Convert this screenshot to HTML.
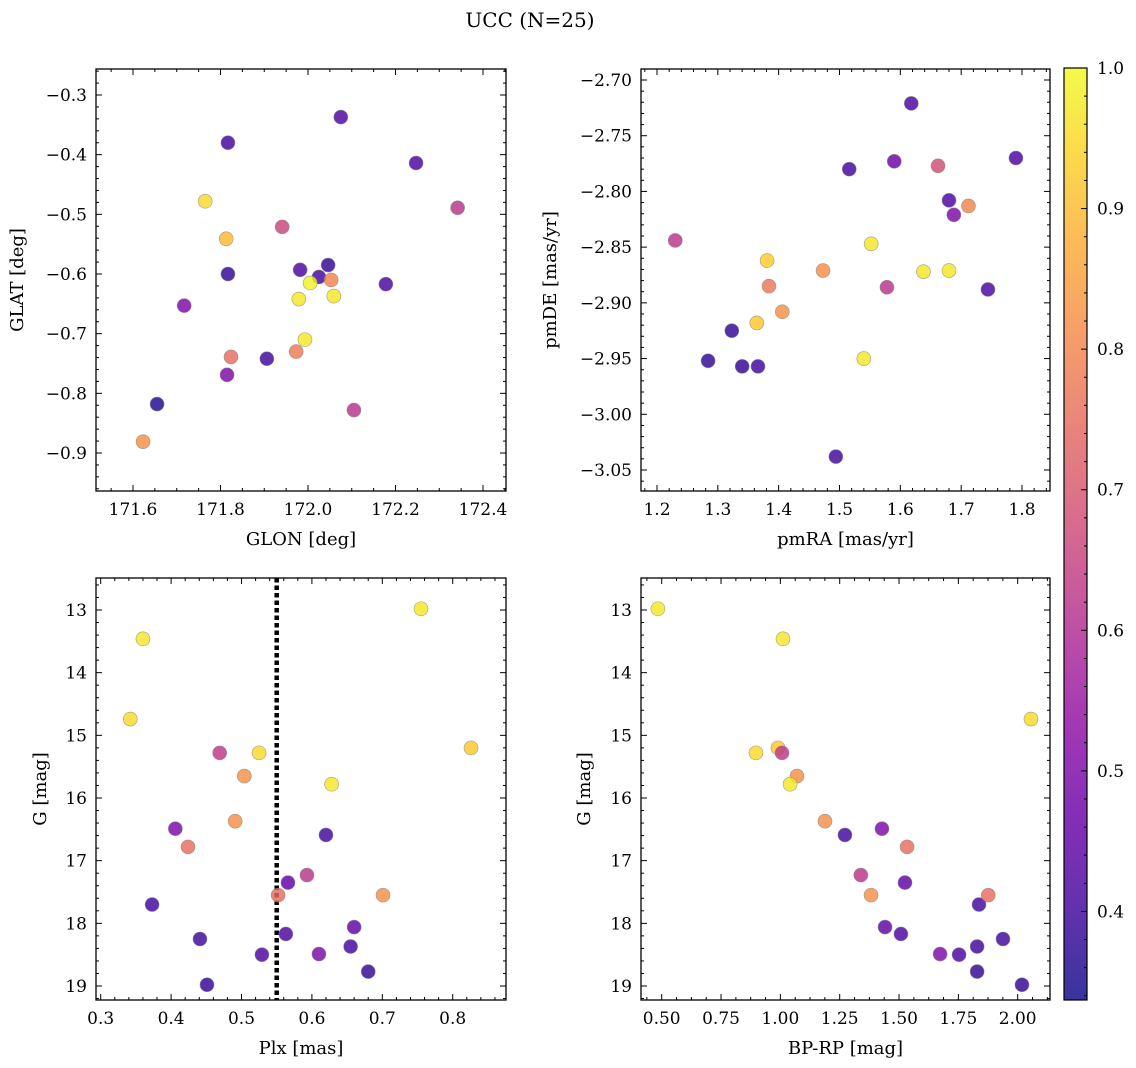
<!DOCTYPE html>
<html><head><meta charset="utf-8"><style>
html,body{margin:0;padding:0;background:#fff;}
svg{display:block;font-family:"DejaVu Serif","Liberation Serif",serif;}
</style></head><body>
<svg id="fig" width="1136" height="1068" xmlns="http://www.w3.org/2000/svg">
<defs>
<linearGradient id="plasma" x1="0" y1="1" x2="0" y2="0"></linearGradient>
</defs>
<text x="530" y="27" font-size="20" text-anchor="middle">UCC (N=25)</text>
</svg>
<script>
// ---- data ----
const prob = [0.42,0.40,0.42,0.62,0.95,0.66,0.90,0.38,0.42,0.40,0.38,0.80,0.99,0.97,0.97,0.42,0.50,0.97,0.75,0.40,0.78,0.50,0.62,0.36,0.82];
const glon = [172.075,171.817,172.247,172.342,171.765,171.941,171.813,171.817,171.982,172.025,172.046,172.053,172.005,171.979,172.059,172.178,171.717,171.993,171.824,171.906,171.973,171.815,172.105,171.655,171.623];
const glat = [-0.337,-0.380,-0.414,-0.489,-0.478,-0.521,-0.541,-0.600,-0.593,-0.605,-0.585,-0.610,-0.615,-0.642,-0.637,-0.617,-0.653,-0.710,-0.739,-0.742,-0.730,-0.769,-0.828,-0.818,-0.881];

const probPM = [0.42,0.40,0.47,0.68,0.42,0.42,0.80,0.50,0.62,0.97,0.93,0.82,0.97,0.97,0.77,0.62,0.42,0.92,0.82,0.38,0.38,0.38,0.40,0.97,0.40];
const pmra = [1.618,1.516,1.590,1.662,1.790,1.680,1.712,1.688,1.230,1.552,1.381,1.473,1.638,1.680,1.384,1.578,1.744,1.364,1.406,1.323,1.284,1.340,1.366,1.540,1.494];
const pmde = [-2.721,-2.780,-2.773,-2.777,-2.770,-2.808,-2.813,-2.821,-2.844,-2.847,-2.862,-2.871,-2.872,-2.871,-2.885,-2.886,-2.888,-2.918,-2.908,-2.925,-2.952,-2.957,-2.957,-2.950,-3.038];

const probCMD = [0.97,0.97,0.95,0.92,0.63,0.95,0.82,0.97,0.82,0.50,0.75,0.40,0.62,0.45,0.40,0.75,0.82,0.45,0.40,0.42,0.40,0.42,0.50,0.38,0.38];
const plx = [0.755,0.360,0.342,0.826,0.469,0.525,0.504,0.628,0.491,0.406,0.424,0.620,0.593,0.566,0.373,0.552,0.701,0.660,0.441,0.563,0.655,0.529,0.610,0.680,0.451];
const gmag = [12.98,13.46,14.74,15.20,15.28,15.28,15.65,15.78,16.37,16.49,16.78,16.59,17.23,17.35,17.70,17.55,17.55,18.06,18.25,18.17,18.37,18.50,18.49,18.77,18.98];
const bprp = [0.484,1.011,2.056,0.990,1.007,0.897,1.070,1.041,1.188,1.428,1.534,1.272,1.339,1.525,1.837,1.876,1.382,1.441,1.938,1.508,1.829,1.753,1.673,1.829,2.018];
const plxLine = 0.55;

const cbTicks = [0.4,0.5,0.6,0.7,0.8,0.9,1.0];
const cbMin = 0.337, cbMax = 1.0;

// ---- helpers ----
const NS = "http://www.w3.org/2000/svg";
const svg = document.getElementById('fig');
function mk(tag, attrs, parent){ const e=document.createElementNS(NS,tag); for(const k in attrs) e.setAttribute(k,attrs[k]); (parent||svg).appendChild(e); return e; }
const stops = ["#0d0887","#41049d","#6a00a8","#8f0da4","#b12a90","#cc4778","#e16462","#f2844b","#fca636","#fcce25","#f0f921"];
function hex(h){return [parseInt(h.substr(1,2),16),parseInt(h.substr(3,2),16),parseInt(h.substr(5,2),16)];}
function plasma(t){ t=Math.max(0,Math.min(1,t)); const f=t*10, i=Math.min(9,Math.floor(f)), r=f-i; const a=hex(stops[i]), b=hex(stops[i+1]); return 'rgb('+a.map((v,k)=>Math.round(v+(b[k]-v)*r)).join(',')+')'; }
function col(p){ return plasma((p-cbMin)/(cbMax-cbMin)); }
function fmt(v,d){ const s=Math.abs(v).toFixed(d); return (v<-1e-9?'\u2212':'')+s; }

function panel(cfg){
  const g = mk('g',{}); 
  
  
  const {L,R,T,B} = cfg.box;
  const sx = v => cfg.xa.p0 + (v-cfg.xa.v0)*(cfg.xa.p1-cfg.xa.p0)/(cfg.xa.v1-cfg.xa.v0);
  const sy = v => cfg.ya.p0 + (v-cfg.ya.v0)*(cfg.ya.p1-cfg.ya.p0)/(cfg.ya.v1-cfg.ya.v0);
  const inv = (a,p) => a.v0 + (p-a.p0)*(a.v1-a.v0)/(a.p1-a.p0);
  const xlo=Math.min(inv(cfg.xa,L),inv(cfg.xa,R)), xhi=Math.max(inv(cfg.xa,L),inv(cfg.xa,R));
  const ylo=Math.min(inv(cfg.ya,T),inv(cfg.ya,B)), yhi=Math.max(inv(cfg.ya,T),inv(cfg.ya,B));
  if(cfg.vline!==undefined){
    const l=mk('line',{x1:sx(cfg.vline),x2:sx(cfg.vline),y1:T,y2:B,stroke:'#000','stroke-width':4.5,'stroke-dasharray':'4.5 3'},g);
    
    
  }
  cfg.xs.forEach((xv,i)=>{
    const c=mk('circle',{cx:sx(xv),cy:sy(cfg.ys[i]),r:7,fill:col(cfg.ps[i]),'fill-opacity':0.82,stroke:'#888','stroke-width':0.6,'stroke-opacity':0.8},g);
    
    
  });
  mk('rect',{x:L,y:T,width:R-L,height:B-T,fill:'none',stroke:'#000','stroke-width':1.3},g);
  const xs0=Math.ceil(xlo/cfg.xa.minor-1e-6);
  for(let k=xs0; k*cfg.xa.minor<=xhi+1e-9; k++){
    const v=k*cfg.xa.minor, p=sx(v);
    const isMaj=Math.abs(v/cfg.xa.major-Math.round(v/cfg.xa.major))<1e-6;
    const len=isMaj?6:3;
    mk('line',{x1:p,x2:p,y1:B,y2:B-len,stroke:'#000','stroke-width':1},g);
    mk('line',{x1:p,x2:p,y1:T,y2:T+len,stroke:'#000','stroke-width':1},g);
    if(isMaj){ const t=mk('text',{x:p,y:B+24,'font-size':17,'text-anchor':'middle'},g); t.textContent=fmt(v,cfg.xa.dec);
        }
  }
  const ys0=Math.ceil(ylo/cfg.ya.minor-1e-6);
  for(let k=ys0; k*cfg.ya.minor<=yhi+1e-9; k++){
    const v=k*cfg.ya.minor, p=sy(v);
    const isMaj=Math.abs(v/cfg.ya.major-Math.round(v/cfg.ya.major))<1e-6;
    const len=isMaj?6:3;
    mk('line',{x1:L,x2:L+len,y1:p,y2:p,stroke:'#000','stroke-width':1},g);
    mk('line',{x1:R,x2:R-len,y1:p,y2:p,stroke:'#000','stroke-width':1},g);
    if(isMaj){ const t=mk('text',{x:L-9,y:p+6,'font-size':17,'text-anchor':'end'},g); t.textContent=fmt(v,cfg.ya.dec);
        }
  }
  const xl=mk('text',{x:(L+R)/2,y:B+54,'font-size':18,'text-anchor':'middle'},g); xl.textContent=cfg.xlabel;
   
  const yx=cfg.ylx, yy=(T+B)/2;
  const yl=mk('text',{x:yx,y:yy,'font-size':18,'text-anchor':'middle',transform:'rotate(-90 '+yx+' '+yy+')'},g); yl.textContent=cfg.ylabel;
   
}

panel({name:'glon-glat-panel',box:{L:96,R:506,T:69,B:491},
  xa:{v0:172.0,p0:308,v1:172.4,p1:483,major:0.2,minor:0.05,dec:1},
  ya:{v0:-0.3,p0:95,v1:-0.9,p1:453,major:0.1,minor:0.02,dec:1},
  xs:glon,ys:glat,ps:prob,xlabel:'GLON [deg]',ylabel:'GLAT [deg]',ylx:23});
panel({name:'proper-motion-panel',box:{L:641,R:1050,T:69,B:491},
  xa:{v0:1.2,p0:657,v1:1.8,p1:1022,major:0.1,minor:0.02,dec:1},
  ya:{v0:-2.70,p0:80,v1:-3.05,p1:470,major:0.05,minor:0.01,dec:2},
  xs:pmra,ys:pmde,ps:probPM,xlabel:'pmRA [mas/yr]',ylabel:'pmDE [mas/yr]',ylx:556});
panel({name:'plx-g-panel',box:{L:96,R:506,T:578,B:1000},
  xa:{v0:0.3,p0:100.7,v1:0.8,p1:452.7,major:0.1,minor:0.02,dec:1},
  ya:{v0:13,p0:610,v1:19,p1:986,major:1,minor:0.2,dec:0},
  xs:plx,ys:gmag,ps:probCMD,xlabel:'Plx [mas]',ylabel:'G [mag]',ylx:46,vline:plxLine});
panel({name:'cmd-panel',box:{L:641,R:1050,T:578,B:1000},
  xa:{v0:0.5,p0:661.7,v1:2.0,p1:1017.7,major:0.25,minor:0.0625,dec:2},
  ya:{v0:13,p0:610,v1:19,p1:986,major:1,minor:0.2,dec:0},
  xs:bprp,ys:gmag,ps:probCMD,xlabel:'BP-RP [mag]',ylabel:'G [mag]',ylx:590});

// ---- colorbar ----
const grad=document.getElementById('plasma');
for(let i=0;i<=20;i++){ mk('stop',{offset:(i/20),'stop-color':plasma(i/20)},grad); }
const cbL=1064, cbR=1087, cbT=68, cbB=1000;
const cy = v => cbB - (v-cbMin)/(cbMax-cbMin)*(cbB-cbT);
const cb=mk('g',{});


mk('rect',{x:cbL,y:cbT,width:cbR-cbL,height:cbB-cbT,fill:'url(#plasma)','fill-opacity':0.82},cb);
mk('rect',{x:cbL,y:cbT,width:cbR-cbL,height:cbB-cbT,fill:'none',stroke:'#000','stroke-width':1.2},cb);
for(let v=0.34; v<=1.0001; v+=0.02){
  const vv=Math.round(v*100)/100; if(vv<cbMin) continue;
  const maj=Math.abs(vv*10-Math.round(vv*10))<1e-6;
  const p=cy(vv);
  mk('line',{x1:cbR,x2:cbR-(maj?6:3),y1:p,y2:p,stroke:'#000','stroke-width':1},cb);
}
cbTicks.forEach(v=>{
  const t=mk('text',{x:cbR+10,y:cy(v)+6,'font-size':17},cb); t.textContent=v.toFixed(1);
  
  
});
</script>
</body></html>
